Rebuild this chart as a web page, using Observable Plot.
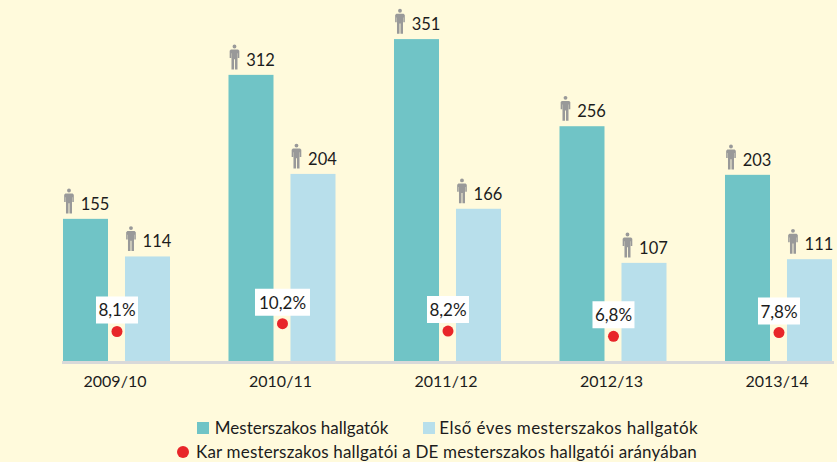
<!DOCTYPE html>
<html lang="hu">
<head>
<meta charset="utf-8">
<script src="https://cdn.jsdelivr.net/npm/d3@7"></script>
<script src="https://cdn.jsdelivr.net/npm/@observablehq/plot@0.6"></script>
<style>
html,body{margin:0;padding:0;background:#FFFADC;width:837px;height:462px;overflow:hidden}
body{font-family:Lato,sans-serif;color:#1c1c1c}
svg{display:block}
.legend{font-size:17px;line-height:24px;height:57px;position:relative;padding-top:11px;box-sizing:border-box}
.row{display:flex;justify-content:center;align-items:center;height:24px;white-space:nowrap;box-sizing:border-box}
.sw{display:inline-block;width:12px;height:12px;margin-right:6px}
.dot{border-radius:50%;margin-right:7px}
.gap{width:35px}
</style>
</head>
<body>
<div id="chart"></div>
<script>
const years = ["2009/10","2010/11","2011/12","2012/13","2013/14"];
const mester = [155,312,351,256,203];
const elso = [114,204,166,107,111];
const arany = [8.1,10.2,8.2,6.8,7.8];
const seriesNames = ["Mesterszakos hallgatók","Első éves mesterszakos hallgatók"];
const dotName = "Kar mesterszakos hallgatói a DE mesterszakos hallgatói arányában";
const colors = ["#70C4C6","#B8DFEB"];
const red = "#E8262A";

const bars = years.flatMap((y,i)=>[
  {year:y, series:seriesNames[0], value:mester[i]},
  {year:y, series:seriesNames[1], value:elso[i]}
]);
const share = years.map((y,i)=>({year:y, pct:arany[i], label:arany[i].toFixed(1).replace(".",",")+"%"}));
const pctToAxis = 4.04; // secondary measure drawn on the count scale

const person = {draw(c,size){
  const s=Math.sqrt(size)/20;
  const P=(x,y)=>[x*s,y*s];
  c.moveTo(...P(3.2,-18)); c.arc(0,-18*s,3.2*s,0,2*Math.PI);
  c.moveTo(...P(-6,-13)); 
  for(const [x,y] of [[6,-13],[8,-11],[8,1],[5.5,1],[5.5,-7],[5,-7],[5,20],[.8,20],[.8,3],[-.8,3],[-.8,20],[-5,20],[-5,-7],[-5.5,-7],[-5.5,1],[-8,1],[-8,-11]]) c.lineTo(...P(x,y));
  c.closePath();
}};
const box = {draw(c,size){
  const w=Math.sqrt(size/Math.PI);
  c.rect(-w,-13.5,2*w,27);
}};

const chart = Plot.plot({
  width:837, height:405,
  marginLeft:24, marginRight:0, marginTop:12.5, marginBottom:44,
  style:{background:"transparent",fontFamily:"Lato,sans-serif",color:"#1c1c1c"},
  fx:{domain:years, paddingInner:.3535, paddingOuter:.13295, align:.886, round:false, label:null},
  x:{domain:seriesNames, paddingInner:.274, paddingOuter:0, round:false, axis:null},
  y:{domain:[0,380], axis:null},
  r:{type:"identity"},
  marks:[
    Plot.barY(bars,{fx:"year",x:"series",y:"value",fill:d=>colors[seriesNames.indexOf(d.series)]}),
    Plot.frame({anchor:"bottom",facet:"super",stroke:"#D9D9D9",strokeWidth:3,dy:1}),
    Plot.dot(bars,{fx:"year",x:"series",y:"value",symbol:person,r:6.8,fill:"#999999",stroke:null,dx:-17,dy:-18}),
    Plot.text(bars,{fx:"year",x:"series",y:"value",text:d=>String(d.value),fontSize:16.5,fill:"#1c1c1c",dx:9,dy:-15}),
    Plot.dot(share,{fx:"year",y:d=>d.pct*pctToAxis,r:5.5,fill:red,stroke:null}),
    Plot.dot(share,{fx:"year",y:d=>d.pct*pctToAxis,symbol:box,r:d=>d.label.length===4?21:27.5,fill:"white",stroke:null,dy:-21.5}),
    Plot.text(share,{fx:"year",y:d=>d.pct*pctToAxis,text:"label",fontSize:17,fill:"#1c1c1c",dy:-20.5}),
    Plot.axisFx({anchor:"bottom",tickSize:0,tickPadding:14,fontSize:16,label:null,fill:"#1c1c1c",dx:-2})
  ]
});
const root=document.getElementById("chart");
root.append(chart);
const lg=document.createElement("div");
lg.className="legend";
lg.innerHTML=`<div class="row" style="padding-left:58px"><span class="sw" style="background:${colors[0]}"></span><span>${seriesNames[0]}</span><span class="gap"></span><span class="sw" style="background:${colors[1]};margin-right:4px"></span><span style="letter-spacing:.43px">${seriesNames[1]}</span></div>
<div class="row" style="padding-left:37px"><span class="sw dot" style="background:${red}"></span><span style="letter-spacing:.17px">${dotName}</span></div>`;
root.append(lg);
</script>
</body>
</html>
